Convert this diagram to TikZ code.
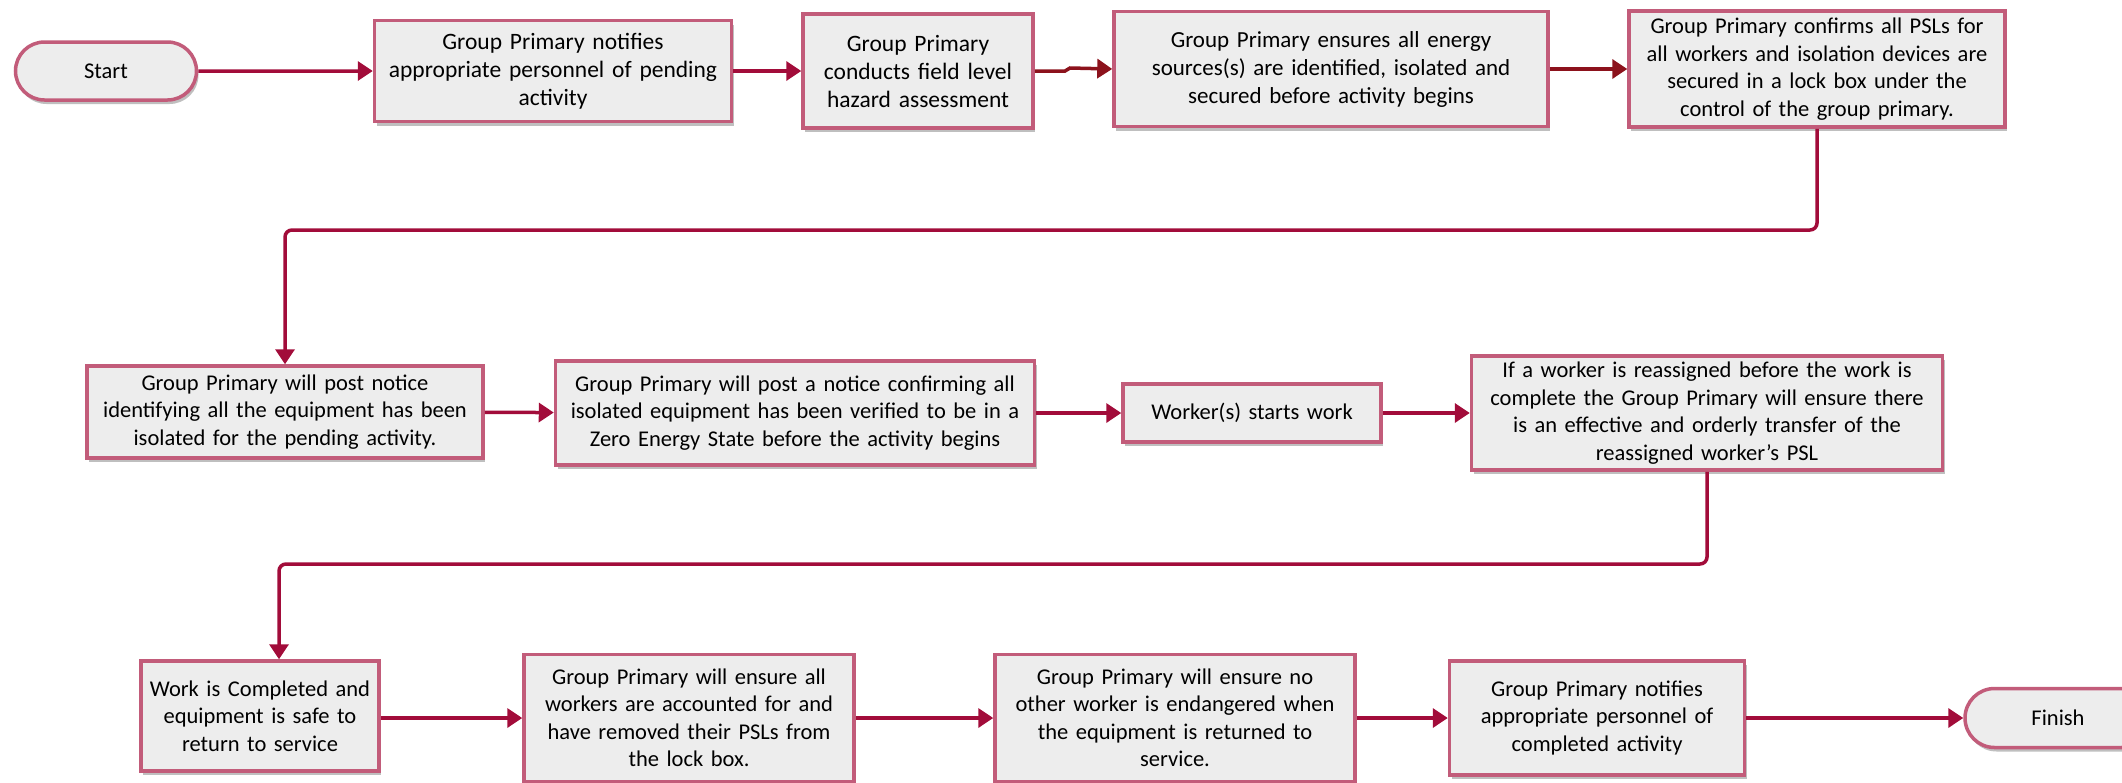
\documentclass[tikz,border=0pt]{standalone}
\usepackage{fontspec}
\setmainfont{Carlito}
\usetikzlibrary{arrows.meta,shapes.misc,shadows}
\definecolor{bordc}{RGB}{194,92,122}
\definecolor{fillc}{RGB}{237,237,237}
\definecolor{arrc}{RGB}{162,12,58}
\definecolor{arrd}{RGB}{140,18,28}
\tikzset{
  stepbox/.style={draw=bordc, line width=3.5pt, fill=fillc, align=center, inner sep=0pt,
    font=\fontsize{22.5}{27.5}\selectfont,
    drop shadow={shadow xshift=2pt, shadow yshift=-4pt, opacity=0.25, fill=black}},
  term/.style={stepbox, rounded rectangle},
  flow/.style={draw=arrc, line width=3.5pt, -{Triangle[length=15pt,width=19pt]}, rounded corners=7pt},
  flowd/.style={flow, draw=arrd},
}
\begin{document}
\begin{tikzpicture}[x=1pt,y=-1pt]
\useasboundingbox (0,0) rectangle (2122,782);
% row 1
\node[term, minimum width=181pt, minimum height=58pt] (start) at (106,71) {Start};
\node[stepbox, minimum width=357pt, minimum height=101pt, text width=350pt, font=\fontsize{23.5}{28}\selectfont] (b1) at (553,71)
  {Group Primary notifies\\appropriate personnel of pending\\activity};
\node[stepbox, minimum width=230pt, minimum height=114pt, text width=222pt, font=\fontsize{23.5}{28}\selectfont] (b2) at (918,71)
  {Group Primary\\conducts field level\\hazard assessment};
\node[stepbox, minimum width=434pt, minimum height=115pt, text width=426pt, font=\fontsize{23}{28}\selectfont] (b3) at (1331,69)
  {Group Primary ensures all energy\\sources(s) are identified, isolated and\\secured before activity begins};
\node[stepbox, minimum width=376pt, minimum height=116pt, text width=370pt] (b4) at (1817,69)
  {Group Primary confirms all PSLs for\\all workers and isolation devices are\\secured in a lock box under the\\control of the group primary.};
% row 2
\node[stepbox, minimum width=396pt, minimum height=92pt, text width=390pt] (b5) at (285,412)
  {Group Primary will post notice\\identifying all the equipment has been\\isolated for the pending activity.};
\node[stepbox, minimum width=479pt, minimum height=104pt, text width=472pt] (b6) at (795,413)
  {Group Primary will post a notice confirming all\\isolated equipment has been verified to be in a\\Zero Energy State before the activity begins};
\node[stepbox, minimum width=258pt, minimum height=58pt, text width=250pt] (b7) at (1252,413)
  {Worker(s) starts work};
\node[stepbox, minimum width=471pt, minimum height=114pt, text width=464pt] (b8) at (1707,413)
  {If a worker is reassigned before the work is\\complete the Group Primary will ensure there\\is an effective and orderly transfer of the\\reassigned worker’s PSL};
% row 3
\node[stepbox, minimum width=238pt, minimum height=110pt, text width=230pt] (b9) at (260,716)
  {Work is Completed and\\equipment is safe to\\return to service};
\node[stepbox, minimum width=330pt, minimum height=127pt, text width=322pt] (b10) at (689,718)
  {Group Primary will ensure all\\workers are accounted for and\\have removed their PSLs from\\the lock box.};
\node[stepbox, minimum width=360pt, minimum height=127pt, text width=352pt] (b11) at (1175,718)
  {Group Primary will ensure no\\other worker is endangered when\\the equipment is returned to\\service.};
\node[stepbox, minimum width=295pt, minimum height=114pt, text width=288pt] (b12) at (1597,718)
  {Group Primary notifies\\appropriate personnel of\\completed activity};
\node[term, minimum width=186pt, minimum height=59pt] (finish) at (2058,718) {Finish};
% connectors
\coordinate (j1) at (1065,71);
\coordinate (j2) at (1070,68);
\coordinate (e1) at (1817,230);
\coordinate (e2) at (285,230);
\coordinate (e3) at (1707,564);
\coordinate (e4) at (279,564);
\draw[flow] (start) -- (b1);
\draw[flow] (b1) -- (b2);
\draw[flowd, rounded corners=0pt] (b2.east) -- (j1) -- (j2) -- (b3.west);
\draw[flowd] (b3) -- (b4);
\draw[flow] (b4.south) -- (e1) -- (e2) -- (b5.north);
\draw[flow] (b5) -- (b6);
\draw[flow] (b6) -- (b7);
\draw[flow] (b7) -- (b8);
\draw[flow] (b8.south) -- (e3) -- (e4) -- (b9.north -| e4);
\draw[flow] (b9.east |- b10) -- (b10);
\draw[flow] (b10) -- (b11);
\draw[flow] (b11) -- (b12);
\draw[flow] (b12) -- (finish);
\end{tikzpicture}
\end{document}
